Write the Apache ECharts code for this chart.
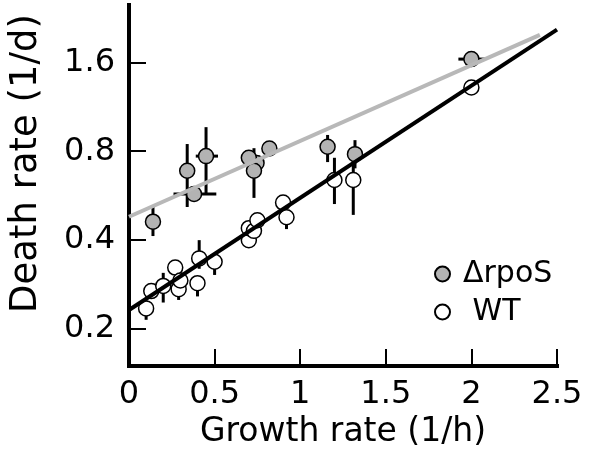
<!DOCTYPE html>
<html><head><meta charset="utf-8">
<script src="https://cdn.jsdelivr.net/npm/echarts@6/dist/echarts.min.js"></script>
<style>html,body{margin:0;padding:0;background:#fff}#c{width:594px;height:466px}</style>
</head><body><div id="c"></div>
<script>
// Axis ticks
const xTicks = [0, 0.5, 1, 1.5, 2, 2.5];
const yTicks = [0.2, 0.4, 0.8, 1.6];

// ΔrpoS (grey) points
const rpoX   = [0.14, 0.34, 0.38, 0.45, 0.745, 0.70, 0.73, 0.82, 1.16, 1.32, 2.00];
const rpoY   = [0.462, 0.687, 0.573, 0.770, 0.730, 0.760, 0.687, 0.817, 0.828, 0.782, 1.64];
const rpoYLo = [0.413, 0.518, 0.555, 0.569, null, null, 0.556, null, 0.735, 0.700, 1.59];
const rpoYHi = [0.518, 0.846, 0.595, 0.965, null, null, 0.819, null, 0.908, 0.872, 1.69];
const rpoXLo = [null, null, 0.26, 0.39, null, null, null, null, null, null, 1.924];
const rpoXHi = [null, null, 0.51, 0.52, null, null, null, null, null, null, 2.08];

// WT (white) points
const wtX   = [0.10, 0.13, 0.20, 0.27, 0.29, 0.30, 0.40, 0.41, 0.50, 0.70, 0.70, 0.73, 0.75, 0.90, 0.92, 1.20, 1.31, 2.00];
const wtY   = [0.235, 0.269, 0.280, 0.323, 0.273, 0.292, 0.286, 0.347, 0.338, 0.400, 0.439, 0.430, 0.467, 0.536, 0.478, 0.639, 0.639, 1.314];
const wtYLo = [0.215, null, 0.246, null, 0.251, null, 0.258, 0.320, 0.305, null, null, null, null, null, 0.436, 0.530, 0.487, null];
const wtYHi = [0.250, null, 0.310, null, 0.290, null, 0.300, 0.400, 0.360, null, null, null, null, null, 0.500, 0.760, 0.780, null];

// Fit lines
const wtFitX  = [0, 2.5];
const wtFitY  = [0.232, 2.064];
const rpoFitX = [0, 2.4];
const rpoFitY = [0.48, 1.98];

const FONT = 'DejaVu Sans';
const zip = (a, b) => a.map((v, i) => [v, b[i]]);
const vBars = [];
const hBars = [];
function addBars(xs, ys, ylo, yhi, xlo, xhi) {
  xs.forEach((x, i) => {
    if (ylo && ylo[i] != null) vBars.push([x, ylo[i], yhi[i]]);
    if (xlo && xlo[i] != null) hBars.push([ys[i], xlo[i], xhi[i]]);
  });
}
addBars(rpoX, rpoY, rpoYLo, rpoYHi, rpoXLo, rpoXHi);
addBars(wtX, wtY, wtYLo, wtYHi, null, null);

const chart = echarts.init(document.getElementById('c'));
chart.setOption({
  animation: false,
  backgroundColor: '#fff',
  grid: { left: 126, right: 37, top: 5, bottom: 100 },
  legend: {
    data: ['ΔrpoS', 'WT'],
    orient: 'vertical', left: 429, top: 254,
    itemWidth: 15, itemHeight: 15, itemGap: 8,
    textStyle: { fontSize: 30, fontFamily: FONT, color: '#000', padding: [0, 0, 0, 8] },
    formatter: n => (n === 'WT' ? ' WT' : n)
  },
  xAxis: {
    type: 'value', min: 0, max: 2.5, interval: 0.5,
    axisLine: { lineStyle: { color: '#000', width: 4, cap: 'square' } },
    axisTick: { inside: true, length: 17, lineStyle: { color: '#000', width: 2 } },
    axisLabel: { fontSize: 32, fontFamily: FONT, color: '#000', margin: 13, showMaxLabel: true, showMinLabel: true },
    splitLine: { show: false },
    name: 'Growth rate (1/h)', nameLocation: 'middle', nameGap: 48,
    nameTextStyle: { fontSize: 33, fontFamily: FONT, color: '#000' }
  },
  yAxis: {
    type: 'log', logBase: 2, min: 0.15, max: 2.5,
    axisLine: { lineStyle: { color: '#000', width: 4, cap: 'square' } },
    axisTick: { inside: true, length: 17, lineStyle: { color: '#000', width: 2 }, customValues: yTicks },
    axisLabel: { fontSize: 32, fontFamily: FONT, color: '#000', margin: 14, customValues: yTicks,
      formatter: v => String(Math.round(v * 10) / 10) },
    splitLine: { show: false },
    minorTick: { show: false },
    name: 'Death rate (1/d)', nameLocation: 'middle', nameGap: 84,
    nameTextStyle: { fontSize: 37, fontFamily: FONT, color: '#000', padding: [0, 0, 0, 44] }
  },
  series: [
    { name: 'rpoFit', type: 'line', data: zip(rpoFitX, rpoFitY), symbol: 'none',
      lineStyle: { color: '#b8b8b8', width: 4 }, silent: true },
    { name: 'wtFit', type: 'line', data: zip(wtFitX, wtFitY), symbol: 'none',
      lineStyle: { color: '#000', width: 4 }, silent: true },
    { name: 'vbars', type: 'custom', data: vBars, encode: { x: 0, y: [1, 2] },
      renderItem: (p, api) => {
        const a = api.coord([api.value(0), api.value(1)]);
        const b = api.coord([api.value(0), api.value(2)]);
        return { type: 'line', shape: { x1: a[0], y1: a[1], x2: b[0], y2: b[1] },
          style: { stroke: '#000', lineWidth: 3 } };
      } },
    { name: 'hbars', type: 'custom', data: hBars, encode: { y: 0, x: [1, 2] },
      renderItem: (p, api) => {
        const a = api.coord([api.value(1), api.value(0)]);
        const b = api.coord([api.value(2), api.value(0)]);
        return { type: 'line', shape: { x1: a[0], y1: a[1], x2: b[0], y2: b[1] },
          style: { stroke: '#000', lineWidth: 3 } };
      } },
    { name: 'WT', type: 'scatter', data: zip(wtX, wtY), symbol: 'circle', symbolSize: 15,
      itemStyle: { color: '#fff', borderColor: '#000', borderWidth: 1.5, opacity: 1 } },
    { name: 'ΔrpoS', type: 'scatter', data: zip(rpoX, rpoY), symbol: 'circle', symbolSize: 15,
      itemStyle: { color: '#b3b3b3', borderColor: '#000', borderWidth: 1.5, opacity: 1 } }
  ]
});
</script>
</body></html>
